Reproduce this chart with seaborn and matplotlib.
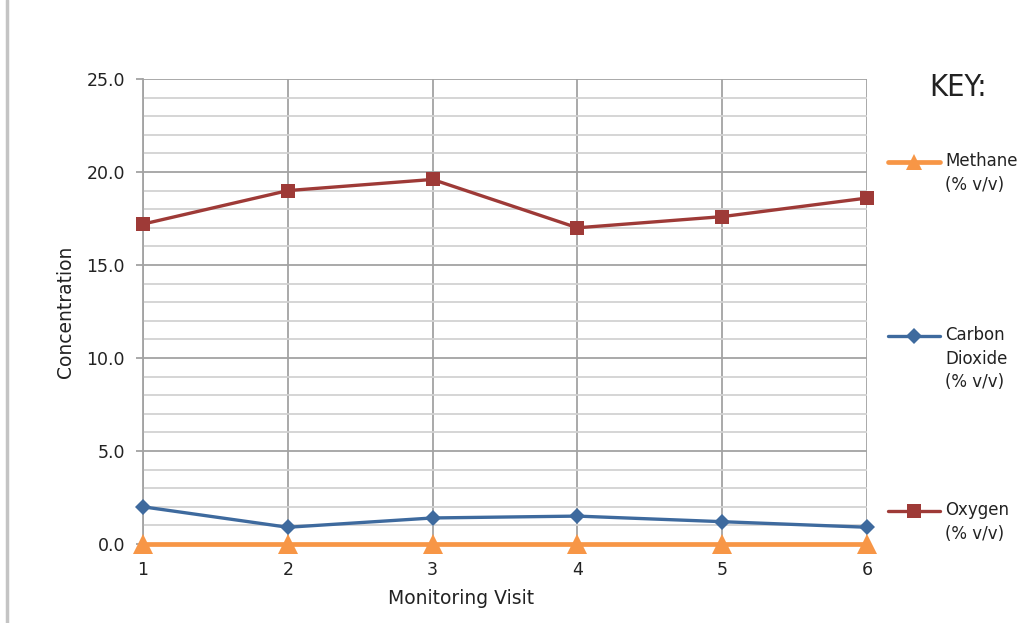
import matplotlib
matplotlib.use("Agg")
import matplotlib.pyplot as plt
from matplotlib.lines import Line2D
from matplotlib.ticker import MultipleLocator
import seaborn as sns
import pandas as pd

visits = [1, 2, 3, 4, 5, 6]
methane = [0.0, 0.0, 0.0, 0.0, 0.0, 0.0]
carbon_dioxide = [2.0, 0.9, 1.4, 1.5, 1.2, 0.9]
oxygen = [17.2, 19.0, 19.6, 17.0, 17.6, 18.6]
series_names = ["Methane\n(% v/v)", "Carbon\nDioxide\n(% v/v)", "Oxygen\n(% v/v)"]
y_ticks = [0.0, 5.0, 10.0, 15.0, 20.0, 25.0]

sns.set_theme(style="white")
plt.rcParams["font.family"] = ["DejaVu Sans"]

c_meth = "#F79646"
c_co2 = "#3E6A9E"
c_oxy = "#9E3A37"
txt = "#222222"

df = pd.DataFrame({"visit": visits, "Methane": methane,
                   "CO2": carbon_dioxide, "Oxygen": oxygen})

fig = plt.figure(figsize=(10.22, 6.23), dpi=100)
ax = fig.add_axes([143/1022, 1-544/623, (867-143)/1022, (544-79)/623])

ax.set_xlim(1, 6)
ax.set_ylim(0, 25)
ax.yaxis.set_major_locator(MultipleLocator(5))
ax.yaxis.set_minor_locator(MultipleLocator(1))
ax.set_xticks(visits)
ax.set_yticks(y_ticks)
ax.set_yticklabels([f"{v:.1f}" for v in y_ticks])
ax.grid(which="major", axis="y", color="#a3a3a3", linewidth=1.3)
ax.grid(which="minor", axis="y", color="#d2d2d2", linewidth=1.3)
ax.grid(which="major", axis="x", color="#a3a3a3", linewidth=1.3)
ax.set_axisbelow(True)
for s in ["top", "right", "bottom"]:
    ax.spines[s].set_visible(False)
ax.spines["left"].set_color("#a3a3a3")
ax.spines["left"].set_linewidth(1.3)

sns.lineplot(data=df, x="visit", y="Oxygen", ax=ax, color=c_oxy, marker="s",
             markersize=10, markeredgewidth=0, linewidth=2.4, clip_on=False, zorder=3)
sns.lineplot(data=df, x="visit", y="CO2", ax=ax, color=c_co2, marker="D",
             markersize=8.5, markeredgewidth=0, linewidth=2.4, clip_on=False, zorder=4)
sns.lineplot(data=df, x="visit", y="Methane", ax=ax, color=c_meth, marker="^",
             markersize=15, markeredgewidth=0, linewidth=3.4, clip_on=False, zorder=5)

ax.tick_params(axis="y", which="major", length=5, width=1.3, color="#a3a3a3",
               labelsize=12.5, pad=8, left=True)
ax.tick_params(axis="y", which="minor", length=0)
ax.tick_params(axis="x", length=0, labelsize=12.5, pad=12)
for t in ax.get_xticklabels() + ax.get_yticklabels():
    t.set_color(txt)

ax.set_xlabel("Monitoring Visit", fontsize=13.5, color=txt)
ax.set_ylabel("Concentration", fontsize=13.5, color=txt, labelpad=8)
ax.xaxis.set_label_coords((461 - 143) / 724, -(599 - 544) / 465 + 0.0, transform=ax.transAxes)
ax.xaxis.label.set_va("center")

# key
fig.text(958/1022, 1-87/623, "KEY:", ha="center", va="center", fontsize=22,
         fontstretch="condensed", color=txt)
key_items = [(162, c_meth, "^", 11, 3.4), (336, c_co2, "D", 8.5, 2.4), (511, c_oxy, "s", 10, 2.4)]
for (yy, col, mk, ms, lw), name in zip(key_items, series_names):
    yf = 1 - yy/623
    fig.add_artist(Line2D([888/1022, 940/1022], [yf, yf], color=col, linewidth=lw,
                          transform=fig.transFigure))
    fig.add_artist(Line2D([914/1022], [yf], color=col, marker=mk, markersize=ms,
                          markeredgewidth=0, linestyle="none", transform=fig.transFigure))
    fig.text(945/1022, yf + 10/623, name, ha="left", va="top", fontsize=12,
             linespacing=1.4, color=txt)

# left frame border
fig.add_artist(Line2D([7/1022, 7/1022], [0, 1], color="#c4c4c4", linewidth=2.5,
                      transform=fig.transFigure))

fig.savefig("out.png", dpi=100)
